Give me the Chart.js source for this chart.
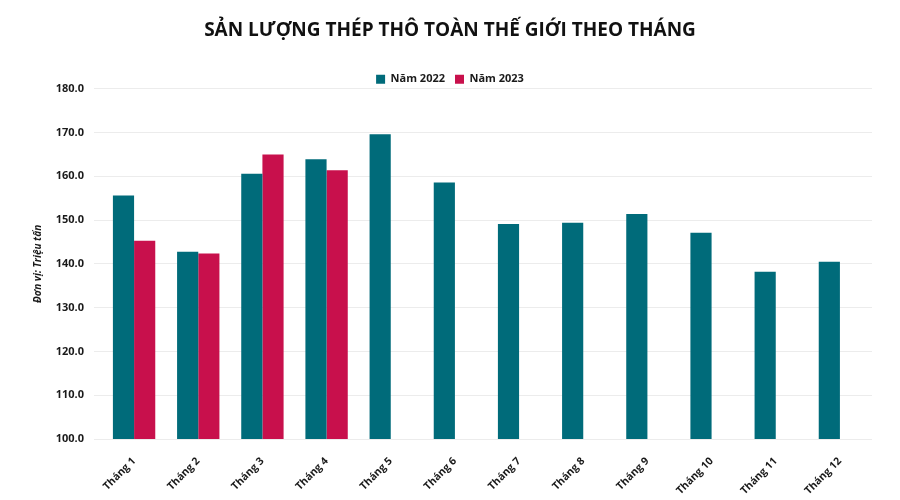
<!DOCTYPE html>
<html>
<head>
<meta charset="utf-8">
<script src="https://cdn.jsdelivr.net/npm/chart.js@4"></script>
<style>
  html, body { margin: 0; padding: 0; background: #fff; }
  #wrap { width: 900px; height: 500px; }
</style>
</head>
<body>
<div id="wrap"><canvas id="steelChart" width="900" height="500"></canvas></div>
<script>
const months = ['Tháng 1', 'Tháng 2', 'Tháng 3', 'Tháng 4', 'Tháng 5', 'Tháng 6',
                'Tháng 7', 'Tháng 8', 'Tháng 9', 'Tháng 10', 'Tháng 11', 'Tháng 12'];
const output2022 = [155.6, 142.8, 160.6, 163.9, 169.6, 158.6, 149.1, 149.4, 151.4, 147.1, 138.2, 140.5];
const output2023 = [145.3, 142.4, 165.0, 161.4, null, null, null, null, null, null, null, null];
const yTicks = [100, 110, 120, 130, 140, 150, 160, 170, 180];

const TEAL = '#006b7a';
const RED  = '#c8104c';
const FONT = "'Open Sans', 'Noto Sans', sans-serif";

Chart.defaults.font.family = FONT;
Chart.defaults.color = '#1a1a1a';

// Shrink the legend box a little so the plot starts right under it
const legendGap = {
  id: 'legendGap',
  beforeLayout(chart) {
    const lg = chart.legend;
    if (!lg || lg._gapPatched) return;
    const fit = lg.fit;
    lg.fit = function () { fit.call(this); this.height -= 6; };
    lg._gapPatched = true;
  }
};

new Chart(document.getElementById('steelChart'), {
  type: 'bar',
  data: {
    labels: months,
    datasets: [
      { label: 'Năm 2022', data: output2022, backgroundColor: TEAL },
      { label: 'Năm 2023', data: output2023, backgroundColor: RED }
    ]
  },
  plugins: [legendGap],
  options: {
    responsive: false,
    animation: false,
    layout: { padding: { left: 28, right: 28, top: 0, bottom: 0 } },
    datasets: { bar: { categoryPercentage: 0.66, barPercentage: 1.0 } },
    plugins: {
      title: {
        display: true,
        text: 'SẢN LƯỢNG THÉP THÔ TOÀN THẾ GIỚI THEO THÁNG',
        font: { size: 19, weight: 'bold' },
        color: '#111',
        padding: { top: 19, bottom: 22 }
      },
      legend: {
        labels: {
          boxWidth: 9, boxHeight: 9, padding: 10,
          font: { size: 11, weight: 'bold' }
        }
      },
      tooltip: { enabled: false }
    },
    scales: {
      x: {
        grid: { display: false },
        border: { display: false },
        ticks: {
          maxRotation: 45, minRotation: 45,
          padding: 8,
          font: { size: 10.5, weight: 'bold' }
        },
        afterFit: s => { s.height = 61; }
      },
      y: {
        min: 100, max: 180,
        afterBuildTicks: s => { s.ticks = yTicks.map(v => ({ value: v })); },
        grid: { color: '#ececec' },
        border: { display: false },
        ticks: {
          padding: 10,
          font: { size: 11, weight: 'bold' },
          callback: v => Number(v).toFixed(1)
        },
        title: {
          display: true,
          text: 'Đơn vị: Triệu tấn',
          font: { size: 10, weight: 'bold', style: 'italic' },
          padding: { bottom: 4 }
        },
        afterFit: s => { s.width = 74; }
      }
    }
  }
});
</script>
</body>
</html>
